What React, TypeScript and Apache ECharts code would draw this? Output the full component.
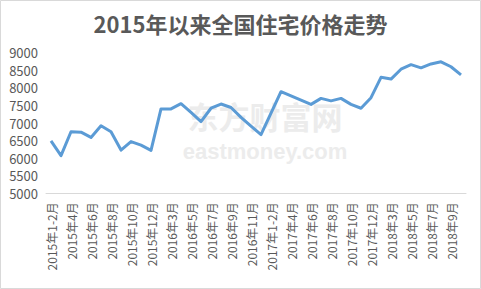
import React, { useEffect, useRef } from "react";
import * as echarts from "echarts";

const title = "2015年以来全国住宅价格走势";

const categories = [
  "2015年1-2月", "2015年3月", "2015年4月", "2015年5月", "2015年6月", "2015年7月",
  "2015年8月", "2015年9月", "2015年10月", "2015年11月", "2015年12月",
  "2016年1-2月", "2016年3月", "2016年4月", "2016年5月", "2016年6月", "2016年7月",
  "2016年8月", "2016年9月", "2016年10月", "2016年11月", "2016年12月",
  "2017年1-2月", "2017年3月", "2017年4月", "2017年5月", "2017年6月", "2017年7月",
  "2017年8月", "2017年9月", "2017年10月", "2017年11月", "2017年12月",
  "2018年1-2月", "2018年3月", "2018年4月", "2018年5月", "2018年6月", "2018年7月",
  "2018年8月", "2018年9月", "2018年10月",
];

const prices = [
  6490, 6070, 6750, 6740, 6590, 6920, 6750, 6230, 6470, 6370, 6220,
  7400, 7400, 7550, 7300, 7040, 7420, 7540, 7440, 7160, 6910, 6670,
  7280, 7890, 7770, 7650, 7530, 7700, 7630, 7700, 7530, 7420, 7720,
  8300, 8250, 8530, 8660, 8570, 8680, 8740, 8600, 8370,
];

const yMin = 5000;
const yMax = 9000;
const yStep = 500;

const FONT = '"Microsoft YaHei", "Noto Sans CJK SC", "Noto Sans", sans-serif';

export default function App() {
  const ref = useRef<HTMLDivElement>(null);

  useEffect(() => {
    if (!ref.current) return;
    const chart = echarts.init(ref.current, null, { renderer: "svg" });
    chart.setOption({
      animation: false,
      backgroundColor: "#ffffff",
      title: {
        text: title,
        left: "center",
        top: 7,
        textStyle: {
          fontFamily: FONT,
          fontSize: 22,
          fontWeight: "bold",
          color: "#595959",
        },
      },
      graphic: [
        {
          type: "rect",
          z: -10,
          shape: { x: 0.5, y: 0.5, width: 480, height: 288 },
          style: { fill: "none", stroke: "#d9d9d9", lineWidth: 1 },
          silent: true,
        },
        {
          type: "text",
          z: -5,
          x: 265,
          y: 115,
          style: {
            text: "东方财富网",
            fontFamily: FONT,
            fontSize: 31,
            fontWeight: "bold",
            fill: "#ececec",
            align: "center",
            verticalAlign: "middle",
          },
          silent: true,
        },
        {
          type: "text",
          z: -5,
          x: 265,
          y: 151,
          style: {
            text: "eastmoney.com",
            fontFamily: '"Liberation Sans", Arial, sans-serif',
            fontSize: 22,
            fontWeight: "bold",
            fill: "#ececec",
            align: "center",
            verticalAlign: "middle",
          },
          silent: true,
        },
      ],
      grid: {
        left: 46,
        right: 15,
        top: 52.7,
        bottom: 95.7,
        containLabel: false,
      },
      xAxis: {
        type: "category",
        data: categories,
        boundaryGap: true,
        axisLine: { show: true, lineStyle: { color: "#d9d9d9", width: 1 } },
        axisTick: { show: false },
        axisLabel: {
          interval: 1,
          rotate: 90,
          margin: 9,
          fontFamily: FONT,
          fontSize: 12,
          color: "#595959",
        },
        splitLine: { show: false },
      },
      yAxis: {
        type: "value",
        min: yMin,
        max: yMax,
        interval: yStep,
        axisLine: { show: false },
        axisTick: { show: false },
        splitLine: { show: false },
        axisLabel: {
          margin: 8,
          fontFamily: FONT,
          fontSize: 13,
          color: "#595959",
          formatter: (v: number) => String(v),
        },
      },
      series: [
        {
          type: "line",
          data: prices,
          symbol: "none",
          z: 5,
          lineStyle: { color: "#5b9bd5", width: 3, join: "round" },
        },
      ],
    });
    return () => chart.dispose();
  }, []);

  return (
    <div
      ref={ref}
      style={{ position: "fixed", left: 0, top: 0, width: 481, height: 289 }}
    />
  );
}
